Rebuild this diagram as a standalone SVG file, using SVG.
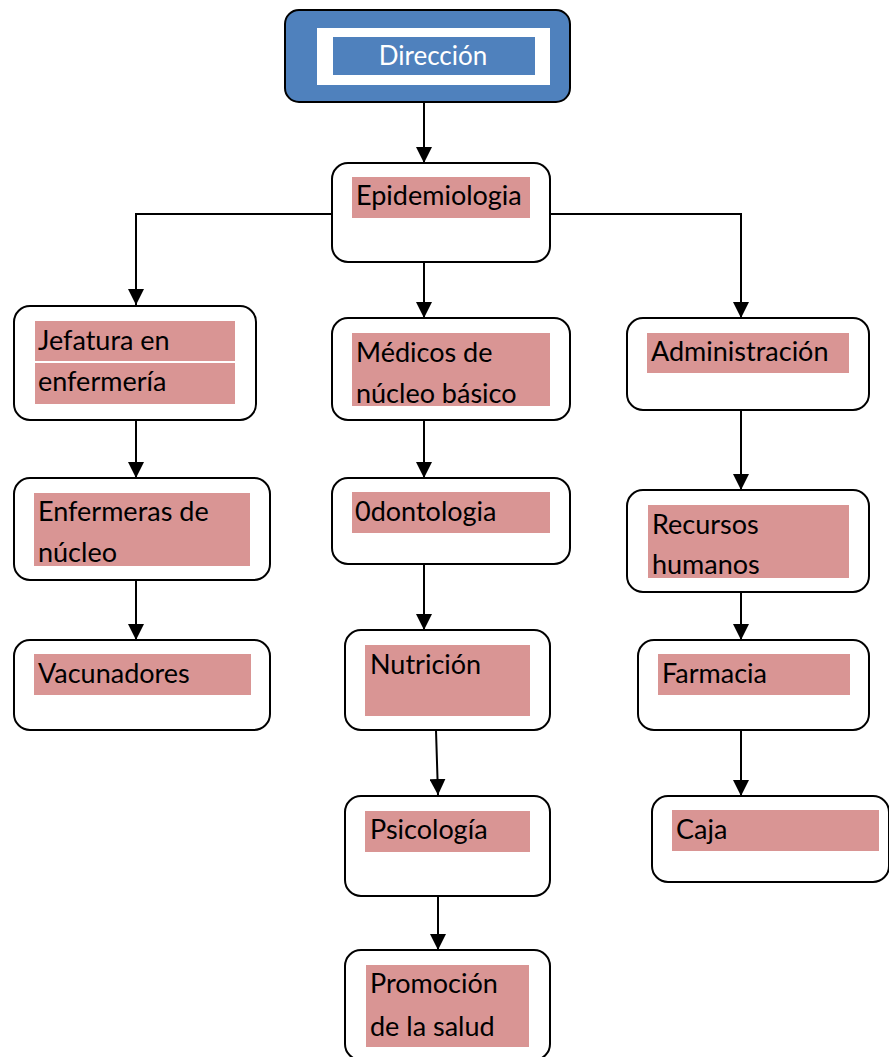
<svg xmlns="http://www.w3.org/2000/svg" width="889" height="1057" viewBox="0 0 889 1057">
<defs>
<marker id="ah" markerWidth="16" markerHeight="16" viewBox="0 0 16 16" refX="16" refY="8" orient="auto" markerUnits="userSpaceOnUse">
<path d="M0,0 L16,8 L0,16 Z" fill="#000"/>
</marker>
<style>
.box{fill:#fff;stroke:#000;stroke-width:2}
.hl{fill:#d99594}
.t{font-family:Lato,"Open Sans","Liberation Sans",sans-serif;font-size:27px;fill:#000}
.c{fill:none;stroke:#000;stroke-width:2}
</style>
</defs>
<rect width="889" height="1057" fill="#fff"/>
<g id="connectors">
<line class="c" x1="424" y1="102" x2="424" y2="163" marker-end="url(#ah)"/>
<polyline class="c" points="331,214 136,214 136,305" marker-end="url(#ah)"/>
<polyline class="c" points="550,214 741,214 741,318" marker-end="url(#ah)"/>
<line class="c" x1="424" y1="262" x2="424" y2="318" marker-end="url(#ah)"/>
<line class="c" x1="136" y1="420" x2="136" y2="478" marker-end="url(#ah)"/>
<line class="c" x1="136" y1="580" x2="136" y2="640" marker-end="url(#ah)"/>
<line class="c" x1="424" y1="420" x2="424" y2="478" marker-end="url(#ah)"/>
<line class="c" x1="424" y1="564" x2="424" y2="630" marker-end="url(#ah)"/>
<line class="c" x1="436" y1="730" x2="438" y2="795" marker-end="url(#ah)"/>
<line class="c" x1="438" y1="896" x2="438" y2="950" marker-end="url(#ah)"/>
<line class="c" x1="741" y1="410" x2="741" y2="490" marker-end="url(#ah)"/>
<line class="c" x1="741" y1="592" x2="741" y2="640" marker-end="url(#ah)"/>
<line class="c" x1="741" y1="730" x2="741" y2="796" marker-end="url(#ah)"/>
</g>
<g id="direccion">
<rect x="285" y="10" width="285" height="92" rx="14" fill="#4f81bd" stroke="#000" stroke-width="2"/>
<rect x="317" y="28" width="233" height="57" fill="#fff"/>
<rect x="333" y="37" width="202" height="38" fill="#4f81bd"/>
<text x="433" y="65" text-anchor="middle" font-family="Lato,'Open Sans','Liberation Sans',sans-serif" font-size="26" fill="#fff">Dirección</text>
</g>
<g id="epidemiologia">
<rect class="box" x="332" y="163" width="218" height="99" rx="16"/>
<rect class="hl" x="352" y="177" width="178" height="41"/>
<text class="t" x="356" y="205">Epidemiologia</text>
</g>
<g id="jefatura">
<rect class="box" x="14" y="306" width="242" height="114" rx="16"/>
<rect class="hl" x="35" y="321" width="200" height="40"/>
<rect class="hl" x="35" y="363" width="200" height="41"/>
<text class="t" x="38" y="350">Jefatura en</text>
<text class="t" x="38" y="391">enfermería</text>
</g>
<g id="enfermeras">
<rect class="box" x="14" y="478" width="256" height="102" rx="16"/>
<rect class="hl" x="34" y="493" width="216" height="73"/>
<text class="t" x="38" y="521">Enfermeras de</text>
<text class="t" x="38" y="562">núcleo</text>
</g>
<g id="vacunadores">
<rect class="box" x="14" y="640" width="256" height="90" rx="16"/>
<rect class="hl" x="34" y="654" width="217" height="41"/>
<text class="t" x="38" y="683">Vacunadores</text>
</g>
<g id="medicos">
<rect class="box" x="332" y="318" width="238" height="102" rx="16"/>
<rect class="hl" x="352" y="333" width="198" height="73"/>
<text class="t" x="356" y="362">Médicos de</text>
<text class="t" x="356" y="403">núcleo básico</text>
</g>
<g id="odontologia">
<rect class="box" x="332" y="478" width="238" height="86" rx="16"/>
<rect class="hl" x="352" y="492" width="198" height="41"/>
<text class="t" x="355" y="521">0dontologia</text>
</g>
<g id="nutricion">
<rect class="box" x="345" y="630" width="205" height="100" rx="16"/>
<rect class="hl" x="365" y="645" width="165" height="71"/>
<text class="t" x="370" y="674">Nutrición</text>
</g>
<g id="psicologia">
<rect class="box" x="345" y="796" width="205" height="100" rx="16"/>
<rect class="hl" x="365" y="811" width="165" height="41"/>
<text class="t" x="370" y="839">Psicología</text>
</g>
<g id="promocion">
<rect class="box" x="345" y="950" width="205" height="110" rx="16"/>
<rect class="hl" x="366" y="965" width="163" height="82"/>
<text class="t" x="370" y="993">Promoción</text>
<text class="t" x="370" y="1036">de la salud</text>
</g>
<g id="administracion">
<rect class="box" x="627" y="318" width="242" height="92" rx="16"/>
<rect class="hl" x="647" y="333" width="202" height="40"/>
<text class="t" x="651" y="361">Administración</text>
</g>
<g id="recursos">
<rect class="box" x="627" y="490" width="242" height="102" rx="16"/>
<rect class="hl" x="648" y="505" width="201" height="73"/>
<text class="t" x="652" y="534">Recursos</text>
<text class="t" x="652" y="574">humanos</text>
</g>
<g id="farmacia">
<rect class="box" x="638" y="640" width="231" height="90" rx="16"/>
<rect class="hl" x="658" y="654" width="192" height="41"/>
<text class="t" x="662" y="683">Farmacia</text>
</g>
<g id="caja">
<rect class="box" x="652" y="796" width="237" height="86" rx="16"/>
<rect class="hl" x="672" y="810" width="207" height="41"/>
<text class="t" x="676" y="839">Caja</text>
</g>
</svg>
